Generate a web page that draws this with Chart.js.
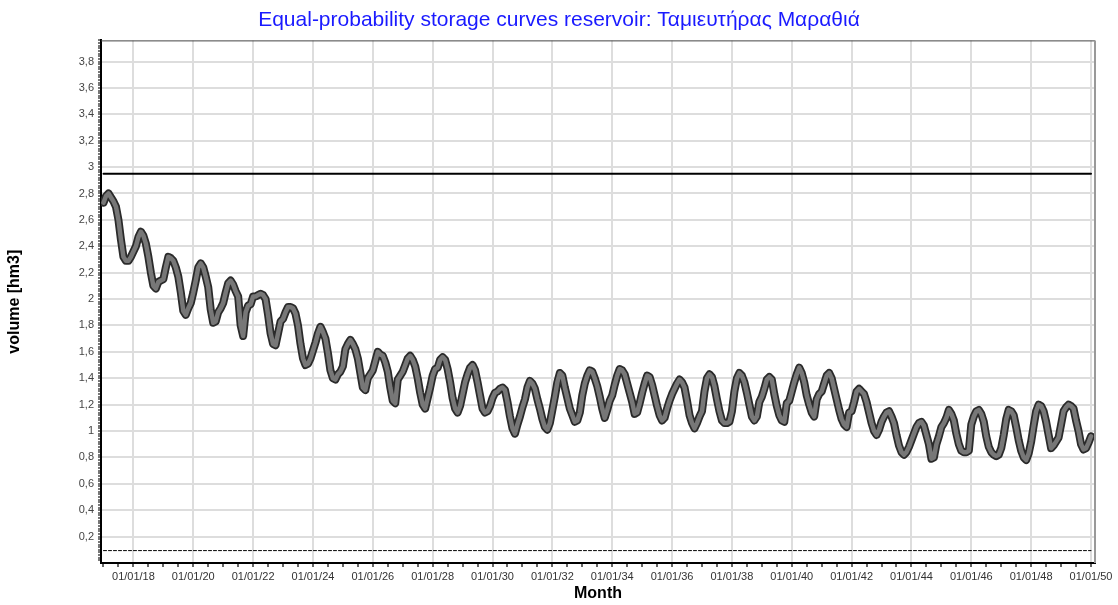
<!DOCTYPE html>
<html>
<head>
<meta charset="utf-8">
<script src="https://cdn.jsdelivr.net/npm/chart.js@4.4.1/dist/chart.umd.min.js"></script>
<style>
    html, body { margin: 0; padding: 0; background: #fff; }
</style>
</head>
<body>
<canvas id="chart" width="1118" height="605"></canvas>
<script>
// monthly storage (hm3), first value = Jan 2017, one row per year
const volume = [
    2.73, 2.78, 2.80, 2.77, 2.74, 2.70, 2.60, 2.45, 2.32, 2.29, 2.29, 2.32, // 2017
    2.36, 2.40, 2.47, 2.51, 2.48, 2.42, 2.32, 2.20, 2.10, 2.08, 2.13, 2.14, // 2018
    2.15, 2.24, 2.32, 2.31, 2.29, 2.24, 2.17, 2.05, 1.91, 1.88, 1.93, 1.97, // 2019
    2.05, 2.14, 2.24, 2.27, 2.24, 2.17, 2.09, 1.92, 1.82, 1.83, 1.90, 1.93, // 2020
    1.97, 2.05, 2.12, 2.14, 2.11, 2.06, 2.02, 1.80, 1.72, 1.90, 1.95, 1.96, // 2021
    2.02, 2.02, 2.03, 2.04, 2.03, 2.00, 1.88, 1.74, 1.66, 1.65, 1.74, 1.83, // 2022
    1.85, 1.90, 1.94, 1.94, 1.93, 1.89, 1.80, 1.66, 1.55, 1.50, 1.51, 1.55, // 2023
    1.61, 1.67, 1.74, 1.79, 1.75, 1.70, 1.59, 1.46, 1.40, 1.39, 1.43, 1.45, // 2024
    1.49, 1.62, 1.66, 1.69, 1.66, 1.62, 1.55, 1.44, 1.33, 1.31, 1.40, 1.43, // 2025
    1.46, 1.53, 1.60, 1.58, 1.57, 1.52, 1.45, 1.33, 1.23, 1.21, 1.39, 1.42, // 2026
    1.45, 1.50, 1.55, 1.57, 1.54, 1.49, 1.40, 1.29, 1.20, 1.17, 1.25, 1.33, // 2027
    1.42, 1.47, 1.48, 1.54, 1.56, 1.54, 1.47, 1.37, 1.25, 1.17, 1.14, 1.19, // 2028
    1.28, 1.37, 1.43, 1.48, 1.50, 1.46, 1.37, 1.27, 1.17, 1.14, 1.15, 1.19, // 2029
    1.25, 1.29, 1.30, 1.32, 1.33, 1.31, 1.22, 1.11, 1.02, 0.98, 1.05, 1.11, // 2030
    1.18, 1.24, 1.33, 1.38, 1.36, 1.32, 1.24, 1.17, 1.09, 1.03, 1.01, 1.06, // 2031
    1.16, 1.26, 1.37, 1.44, 1.42, 1.33, 1.25, 1.17, 1.12, 1.07, 1.08, 1.14, // 2032
    1.27, 1.36, 1.42, 1.46, 1.45, 1.40, 1.34, 1.26, 1.17, 1.10, 1.16, 1.23, // 2033
    1.27, 1.35, 1.42, 1.47, 1.46, 1.43, 1.36, 1.29, 1.22, 1.13, 1.14, 1.21, // 2034
    1.29, 1.36, 1.42, 1.41, 1.35, 1.27, 1.19, 1.12, 1.08, 1.10, 1.17, 1.23, // 2035
    1.28, 1.32, 1.36, 1.39, 1.37, 1.33, 1.23, 1.12, 1.06, 1.02, 1.06, 1.11, // 2036
    1.15, 1.30, 1.40, 1.43, 1.41, 1.34, 1.24, 1.15, 1.08, 1.06, 1.06, 1.07, // 2037
    1.15, 1.30, 1.40, 1.44, 1.42, 1.37, 1.29, 1.20, 1.11, 1.08, 1.11, 1.22, // 2038
    1.26, 1.32, 1.39, 1.41, 1.39, 1.28, 1.19, 1.12, 1.08, 1.07, 1.21, 1.23, // 2039
    1.30, 1.37, 1.43, 1.48, 1.44, 1.37, 1.27, 1.20, 1.14, 1.11, 1.24, 1.28, // 2040
    1.30, 1.36, 1.42, 1.44, 1.40, 1.32, 1.24, 1.16, 1.09, 1.05, 1.03, 1.14, // 2041
    1.15, 1.22, 1.30, 1.32, 1.30, 1.28, 1.22, 1.14, 1.06, 1.00, 0.97, 1.01, // 2042
    1.07, 1.11, 1.14, 1.15, 1.11, 1.06, 0.97, 0.89, 0.84, 0.82, 0.84, 0.88, // 2043
    0.93, 0.98, 1.03, 1.06, 1.07, 1.04, 0.97, 0.90, 0.79, 0.80, 0.90, 0.96, // 2044
    1.03, 1.06, 1.10, 1.16, 1.13, 1.08, 0.98, 0.90, 0.85, 0.84, 0.84, 0.85, // 2045
    1.05, 1.11, 1.15, 1.16, 1.13, 1.07, 0.96, 0.88, 0.84, 0.82, 0.81, 0.82, // 2046
    0.87, 0.97, 1.09, 1.16, 1.15, 1.12, 1.03, 0.93, 0.85, 0.80, 0.78, 0.83, // 2047
    0.92, 1.04, 1.15, 1.20, 1.19, 1.15, 1.07, 0.97, 0.87, 0.89, 0.92, 0.95, // 2048
    1.05, 1.15, 1.18, 1.20, 1.19, 1.17, 1.08, 1.00, 0.90, 0.86, 0.87, 0.91, // 2049
    0.96                                                                   // 2050
];

const upperLevel = 2.95;   // solid line
const lowerLevel = 0.094;  // dashed line

const xTickLabels = ['01/01/18', '01/01/20', '01/01/22', '01/01/24', '01/01/26', '01/01/28',
    '01/01/30', '01/01/32', '01/01/34', '01/01/36', '01/01/38', '01/01/40', '01/01/42',
    '01/01/44', '01/01/46', '01/01/48', '01/01/50'];

const lastMonth = volume.length - 1;
const curve = volume.map((v, i) => ({ x: i, y: v }));

// x tick at every half year, label/grid every two years starting Jan 2018 (month 12)
function isMajorMonth(m) {
    return m >= 12 && (m - 12) % 24 === 0;
}

const borderPlugin = {
    id: 'plotBorder',
    afterDraw(chart) {
        const { ctx, chartArea: a } = chart;
        ctx.save();
        ctx.strokeStyle = '#444';
        ctx.lineWidth = 1;
        ctx.beginPath();
        ctx.moveTo(a.left, a.top + 0.5);
        ctx.lineTo(a.right, a.top + 0.5);
        ctx.stroke();
        ctx.strokeStyle = '#999';
        ctx.lineWidth = 2;
        ctx.beginPath();
        ctx.moveTo(a.right, a.top);
        ctx.lineTo(a.right, a.bottom);
        ctx.stroke();
        ctx.restore();
    }
};

const ctx = document.getElementById('chart').getContext('2d');
new Chart(ctx, {
    type: 'line',
    data: {
        datasets: [
            {
                label: 'curve',
                data: curve,
                borderColor: '#777777',
                borderWidth: 4.5,
                order: 0
            },
            {
                label: 'curve outline',
                data: curve,
                borderColor: '#2a2a2a',
                borderWidth: 8,
                order: 1
            },
            {
                label: 'upper',
                data: [{ x: 0, y: upperLevel }, { x: lastMonth, y: upperLevel }],
                borderColor: '#000',
                borderWidth: 2,
                order: 2
            },
            {
                label: 'lower',
                data: [{ x: 0, y: lowerLevel }, { x: lastMonth, y: lowerLevel }],
                borderColor: '#000',
                borderWidth: 1,
                borderDash: [3, 2],
                order: 3
            }
        ]
    },
    options: {
        responsive: false,
        animation: false,
        layout: { padding: 0 },
        elements: {
            point: { radius: 0 },
            line: { tension: 0, fill: false, borderJoinStyle: 'round', borderCapStyle: 'round' }
        },
        plugins: {
            legend: { display: false },
            tooltip: { enabled: false },
            title: {
                display: true,
                text: 'Equal-probability storage curves reservoir: Ταμιευτήρας Μαραθιά',
                color: '#1a1aff',
                font: { family: 'Liberation Sans, Arial, sans-serif', size: 21, weight: 'normal' },
                padding: { top: 7.5, bottom: 7.7 }
            }
        },
        scales: {
            x: {
                type: 'linear',
                min: -1,
                max: 397.6,
                afterFit: (scale) => { scale.height = 42; },
                afterBuildTicks: (scale) => {
                    const t = [];
                    for (let m = 0; m <= lastMonth; m += 6) t.push({ value: m });
                    scale.ticks = t;
                },
                ticks: {
                    autoSkip: false,
                    maxRotation: 0,
                    color: '#333',
                    padding: 3,
                    font: { family: 'Liberation Sans, Arial, sans-serif', size: 11 },
                    callback: (value) => isMajorMonth(value) ? xTickLabels[(value - 12) / 24] : ''
                },
                grid: {
                    color: (c) => (c.tick && isMajorMonth(c.tick.value)) ? '#dddddd' : 'rgba(0,0,0,0)',
                    tickColor: '#666',
                    lineWidth: 2,
                    tickLength: 4
                },
                border: { color: '#000', width: 2 },
                title: {
                    display: true,
                    text: 'Month',
                    color: '#000',
                    font: { family: 'Liberation Sans, Arial, sans-serif', size: 16, weight: 'bold' },
                    padding: { top: 0, bottom: 2 }
                }
            },
            y: {
                min: 0,
                max: 3.96,
                afterFit: (scale) => { scale.width = 101; },
                afterBuildTicks: (scale) => {
                    const t = [];
                    for (let i = 1; i <= 198; i++) t.push({ value: i / 50 });
                    scale.ticks = t;
                },
                ticks: {
                    autoSkip: false,
                    color: '#444',
                    padding: 4,
                    font: { family: 'Liberation Sans, Arial, sans-serif', size: 11 },
                    callback: (value) => {
                        const i = Math.round(value * 50);
                        return i % 10 === 0 ? String(i / 50).replace('.', ',') : '';
                    }
                },
                grid: {
                    color: (c) => (c.tick && Math.round(c.tick.value * 50) % 10 === 0) ? '#dddddd' : 'rgba(0,0,0,0)',
                    tickColor: '#777',
                    lineWidth: 2,
                    tickLength: 3
                },
                border: { color: '#000', width: 2 },
                title: {
                    display: true,
                    text: 'volume [hm3]',
                    color: '#000',
                    font: { family: 'Liberation Sans, Arial, sans-serif', size: 16, weight: 'bold' },
                    padding: { top: 5, bottom: 0 }
                }
            },
            // empty right-hand strip so the plot ends at the same place as the original
            yRight: {
                position: 'right',
                afterFit: (scale) => { scale.width = 23; },
                grid: { display: false, drawOnChartArea: false },
                ticks: { display: false },
                border: { display: false }
            }
        }
    },
    plugins: [borderPlugin]
});
</script>
</body>
</html>
